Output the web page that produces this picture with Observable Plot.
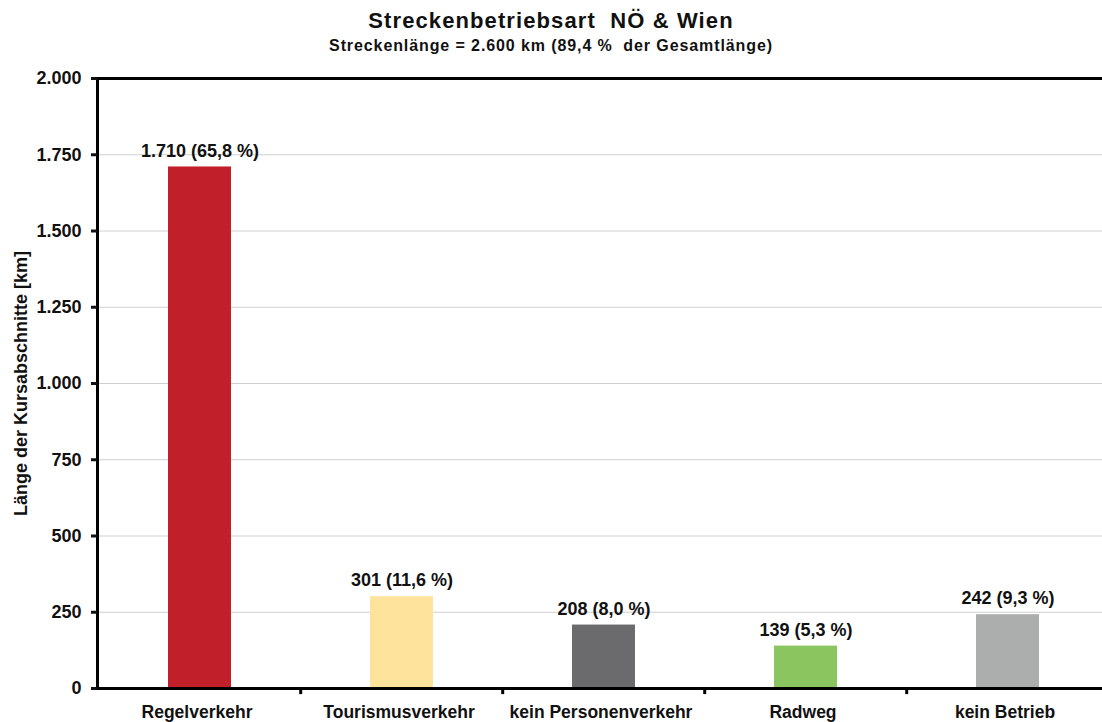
<!DOCTYPE html>
<html>
<head>
<meta charset="utf-8">
<script src="https://cdn.jsdelivr.net/npm/d3@7"></script>
<script src="https://cdn.jsdelivr.net/npm/@observablehq/plot@0.6"></script>
<style>
  html, body { margin: 0; padding: 0; background: #fff; }
  body { width: 1102px; height: 722px; position: relative; overflow: hidden; font-family: "Liberation Sans", Arial, sans-serif; }
  #title { position: absolute; left: 0; width: 1102px; top: 7px; text-align: center; font-weight: bold; font-size: 22px; letter-spacing: 1.1px; line-height: 28px; color: #111; }
  #subtitle { position: absolute; left: 0; width: 1102px; top: 36px; text-align: center; font-weight: bold; font-size: 16px; letter-spacing: 0.9px; line-height: 20px; color: #111; }
  #chart { position: absolute; left: 0; top: 0; }
</style>
</head>
<body>
<div id="chart"></div>
<div id="title">Streckenbetriebsart&nbsp; NÖ &amp; Wien</div>
<div id="subtitle">Streckenlänge = 2.600 km (89,4 %&nbsp; der Gesamtlänge)</div>
<script>
const categories = ["Regelverkehr", "Tourismusverkehr", "kein Personenverkehr", "Radweg", "kein Betrieb"];
const values = [1710, 301, 208, 139, 242];
const percents = ["65,8", "11,6", "8,0", "5,3", "9,3"];
const colors = ["#c1202a", "#fde39b", "#6b6b6d", "#8bc55f", "#acaeae"];
const yTicks = [0, 250, 500, 750, 1000, 1250, 1500, 1750, 2000];

const de = d3.formatLocale({decimal: ",", thousands: ".", grouping: [3], currency: ["", " €"]});
const fmt = de.format(",d");

const data = categories.map((c, i) => ({cat: c, value: values[i], pct: percents[i], color: colors[i]}));

const x0 = 97, x1 = 1110;
const step = (x1 - x0) / categories.length;

const chart = Plot.plot({
  width: 1102,
  height: 722,
  marginTop: 78,
  marginBottom: 34,
  marginLeft: 97,
  marginRight: 0,
  style: {fontFamily: "'Liberation Sans', Arial, sans-serif", fontWeight: "bold", color: "#111", background: "transparent"},
  x: {domain: categories, range: [x0, x1], paddingInner: 0.69, paddingOuter: 0.345},
  y: {domain: [0, 2000]},
  color: {type: "identity"},
  marks: [
    Plot.gridY(yTicks, {stroke: "#cfcfcf", strokeOpacity: 1, strokeWidth: 1}),
    Plot.ruleY([2000], {stroke: "#000", strokeWidth: 3}),
    Plot.barY(data, {x: "cat", y: "value", fill: "color"}),
    Plot.text(data, {x: "cat", y: "value", text: d => `${fmt(d.value)} (${d.pct} %)`, dy: -16, fontSize: 18, fontWeight: "bold", fill: "#111"}),
    Plot.frame({anchor: "left", stroke: "#000", strokeWidth: 3}),
    Plot.frame({anchor: "bottom", stroke: "#000", strokeWidth: 3}),
    Plot.axisY({ticks: yTicks, tickFormat: fmt, tickSize: 6, tickPadding: 10, strokeWidth: 3, fontSize: 18, fontWeight: "bold",
      label: "Länge der Kursabschnitte [km]", labelAnchor: "center", labelArrow: "none", labelOffset: 83}),
    Plot.axisX({tickSize: 0, tickPadding: 17, fontSize: 17.5, fontWeight: "bold", label: null, dx: -3}),
    Plot.ruleX(categories.slice(1), {x: d => d, dx: -step / 2, y1: 0, y2: -20, stroke: "#000", strokeWidth: 3})
  ]
});
document.getElementById("chart").appendChild(chart);
</script>
</body>
</html>
